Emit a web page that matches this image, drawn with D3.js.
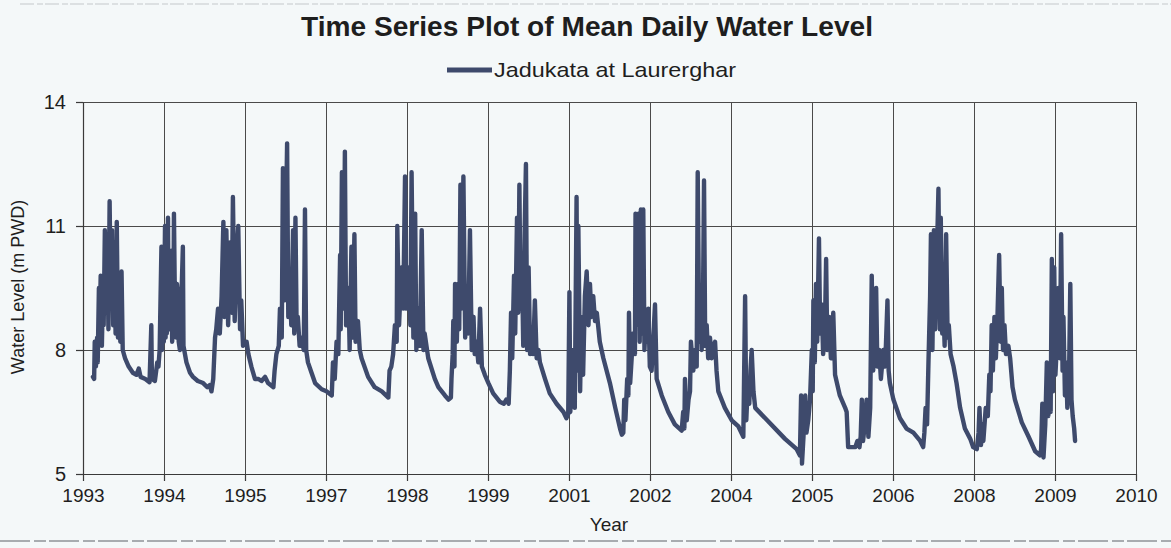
<!DOCTYPE html>
<html>
<head>
<meta charset="utf-8">
<script src="https://cdn.jsdelivr.net/npm/d3@7"></script>
<style>
  html, body { margin: 0; padding: 0; background: #f4f8f9; }
  svg { display: block; }
  text { font-family: "Liberation Sans", Arial, sans-serif; fill: #1e1e1e; }
</style>
</head>
<body>
<svg id="chart" width="1171" height="548"></svg>
<script>
// mean daily water level, Jadukata at Laurerghar
// [decimal year, level in m PWD]
var levels1993_1996 = [
  [1993.32,7.35],[1993.34,7.3],[1993.35,8.2],[1993.37,7.6],[1993.39,8.3],[1993.40,7.7],[1993.42,9.5],[1993.43,8.4],
  [1993.45,9.8],[1993.47,8.1],[1993.49,9.6],[1993.50,8.6],[1993.52,10.9],[1993.54,8.9],[1993.56,10.8],[1993.58,8.5],
  [1993.60,11.6],[1993.62,9.0],[1993.64,10.9],[1993.66,8.6],[1993.68,10.6],[1993.70,8.4],[1993.72,11.1],[1993.74,8.3],
  [1993.76,9.2],[1993.78,8.2],[1993.80,9.9],[1993.82,8.0],[1993.86,7.8],[1993.92,7.6],[1993.99,7.45],[1994.05,7.4],
  [1994.09,7.55],[1994.12,7.35],[1994.20,7.3],[1994.27,7.22],[1994.30,8.6],[1994.31,7.3],[1994.36,7.25],[1994.40,7.7],
  [1994.42,7.6],[1994.44,8.0],[1994.47,10.5],[1994.48,8.0],[1994.50,9.6],[1994.51,8.2],[1994.53,11.0],[1994.54,8.3],
  [1994.55,9.8],[1994.56,8.4],[1994.58,11.2],[1994.59,8.6],[1994.61,8.5],[1994.62,9.7],[1994.64,10.4],[1994.65,8.2],
  [1994.67,8.8],[1994.68,11.3],[1994.70,8.6],[1994.72,8.3],[1994.73,9.6],[1994.75,9.3],[1994.76,8.2],[1994.78,8.0],
  [1994.83,10.5],[1994.84,8.1],[1994.89,7.7],[1994.95,7.45],[1995.00,7.35],[1995.08,7.25],[1995.17,7.2],[1995.24,7.1],
  [1995.28,7.15],[1995.31,7.0],[1995.34,7.3],[1995.37,8.3],[1995.39,8.5],[1995.42,9.0],[1995.45,8.4],[1995.48,9.3],
  [1995.51,11.1],[1995.53,8.8],[1995.56,10.9],[1995.59,8.6],[1995.62,10.6],[1995.65,8.9],[1995.67,11.7],[1995.70,8.7],
  [1995.73,10.2],[1995.76,11.0],[1995.79,8.5],[1995.81,9.2],[1995.84,8.1],[1995.90,8.2],[1995.93,7.9],[1995.98,7.6],
  [1996.04,7.3],[1996.10,7.3],[1996.15,7.25],[1996.21,7.35],[1996.26,7.2],[1996.35,7.1],[1996.37,7.5],[1996.40,7.9],
  [1996.44,8.1],[1996.46,9.0],[1996.49,8.3],[1996.51,12.4],[1996.54,9.2],[1996.58,13.0],[1996.60,8.8],[1996.63,9.5],
  [1996.65,8.6],[1996.68,10.9],[1996.70,8.4],[1996.72,11.2],[1996.74,8.5],[1996.76,8.8],[1996.79,8.1],[1996.82,8.3],
  [1996.86,8.0],[1996.88,11.4],[1996.90,8.0],[1996.93,7.7],[1996.99,7.45]
];

var levels1997_2000 = [
  [1997.05,7.2],[1997.16,7.05],[1997.24,7.0],[1997.33,6.9],[1997.35,7.7],[1997.38,7.3],[1997.41,8.2],[1997.44,7.9],
  [1997.47,10.3],[1997.48,8.5],[1997.50,12.3],[1997.53,9.0],[1997.55,12.8],[1997.57,8.6],[1997.61,9.5],[1997.63,8.0],
  [1997.66,10.5],[1997.68,8.3],[1997.71,10.8],[1997.73,8.2],[1997.77,8.7],[1997.80,8.0],[1997.83,7.8],[1997.94,7.35],
  [1998.05,7.1],[1998.17,7.0],[1998.28,6.85],[1998.30,7.5],[1998.33,7.6],[1998.36,7.9],[1998.39,8.6],[1998.42,8.2],
  [1998.43,11.0],[1998.46,8.6],[1998.50,10.0],[1998.53,9.0],[1998.56,12.2],[1998.58,9.0],[1998.62,10.0],[1998.65,8.6],
  [1998.67,12.3],[1998.70,8.3],[1998.73,11.3],[1998.75,8.0],[1998.78,9.0],[1998.81,8.1],[1998.84,10.9],[1998.87,8.0],
  [1998.89,8.4],[1998.95,7.8],[1999.06,7.3],[1999.12,7.1],[1999.23,6.9],[1999.29,6.8],[1999.33,6.85],[1999.34,7.3],
  [1999.36,7.9],[1999.37,8.7],[1999.39,7.6],[1999.40,9.6],[1999.43,8.2],[1999.45,9.6],[1999.47,8.5],[1999.49,12.0],
  [1999.51,9.0],[1999.54,12.2],[1999.57,8.3],[1999.59,9.2],[1999.62,8.4],[1999.65,10.9],[1999.68,8.0],[1999.71,8.8],
  [1999.73,7.9],[1999.76,8.2],[1999.79,7.7],[1999.82,9.0],[1999.85,7.6],[1999.90,7.4],[1999.96,7.2],[2000.04,6.95],
  [2000.15,6.75],[2000.22,6.7],[2000.26,6.8],[2000.30,6.7],[2000.32,7.5],[2000.34,8.9],[2000.36,7.8],[2000.39,9.8],
  [2000.41,8.4],[2000.44,11.2],[2000.46,8.9],[2000.48,12.0],[2000.50,9.0],[2000.52,10.3],[2000.545,8.1],[2000.57,11.0],
  [2000.59,12.5],[2000.61,8.0],[2000.635,10.0],[2000.66,7.9],[2000.685,8.5],[2000.71,7.9],[2000.74,9.2],[2000.77,7.8],
  [2000.80,8.0],[2000.825,7.7],[2000.91,7.3],[2000.99,6.95]
];

var levels2001_2004 = [
  [2001.105,6.7],[2001.22,6.5],[2001.27,6.35],[2001.30,6.45],[2001.32,9.4],[2001.335,6.5],[2001.36,7.2],[2001.385,8.0],
  [2001.41,6.6],[2001.44,11.7],[2001.455,7.5],[2001.47,11.0],[2001.50,7.0],[2001.52,8.8],[2001.55,7.4],[2001.58,9.3],
  [2001.61,9.9],[2001.64,8.6],[2001.665,9.6],[2001.69,8.8],[2001.72,9.3],[2001.75,8.7],[2001.78,8.9],[2001.83,8.2],
  [2001.89,7.8],[2002.00,7.2],[2002.09,6.6],[2002.17,6.1],[2002.20,5.95],[2002.225,6.0],[2002.24,6.8],[2002.26,6.3],
  [2002.29,7.3],[2002.31,6.9],[2002.32,8.9],[2002.34,7.2],[2002.365,7.8],[2002.39,8.4],[2002.42,7.9],[2002.43,11.3],
  [2002.45,8.6],[2002.48,11.3],[2002.50,8.2],[2002.52,11.4],[2002.545,8.4],[2002.56,11.4],[2002.58,8.0],[2002.60,8.7],
  [2002.63,8.2],[2002.645,9.0],[2002.67,7.6],[2002.70,7.5],[2002.757,9.1],[2002.785,7.3],[2002.87,6.9],[2002.98,6.5],
  [2003.09,6.2],[2003.205,6.05],[2003.23,6.5],[2003.25,6.1],[2003.26,7.3],[2003.29,6.3],[2003.32,6.8],[2003.345,7.0],
  [2003.36,8.2],[2003.40,7.5],[2003.43,8.0],[2003.457,7.6],[2003.474,12.3],[2003.50,8.2],[2003.513,9.0],[2003.54,8.0],
  [2003.563,9.2],[2003.58,12.1],[2003.60,8.1],[2003.625,8.6],[2003.65,7.8],[2003.68,8.3],[2003.71,7.8],[2003.737,8.1],
  [2003.765,8.2],[2003.79,7.5],[2003.82,7.0],[2003.93,6.6],[2004.045,6.3],[2004.157,6.15],[2004.24,5.9],[2004.27,9.3],
  [2004.29,6.3],[2004.31,7.0],[2004.34,6.7],[2004.36,7.5],[2004.38,8.0],[2004.41,7.0],[2004.44,6.6],[2004.94,5.85]
];

var levels2005_2009 = [
  [2005.136,5.6],[2005.19,5.45],[2005.21,6.9],[2005.225,5.25],[2005.25,5.9],[2005.28,6.9],[2005.30,6.0],[2005.33,6.3],
  [2005.36,6.8],[2005.39,8.0],[2005.405,7.0],[2005.416,9.2],[2005.44,7.7],[2005.46,9.6],[2005.48,8.2],[2005.51,10.7],
  [2005.53,8.4],[2005.556,9.1],[2005.58,7.9],[2005.61,8.5],[2005.63,10.2],[2005.65,8.0],[2005.68,8.8],[2005.71,7.8],
  [2005.75,8.9],[2005.78,7.4],[2005.86,6.9],[2005.95,6.6],[2005.975,6.5],[2006.00,5.65],[2006.12,5.65],[2006.155,5.8],
  [2006.19,5.65],[2006.21,5.9],[2006.23,6.8],[2006.25,5.8],[2006.28,6.2],[2006.31,6.8],[2006.34,5.9],[2006.37,6.6],
  [2006.396,9.8],[2006.42,7.5],[2006.44,8.2],[2006.47,9.5],[2006.49,7.6],[2006.52,8.0],[2006.55,7.3],[2006.59,8.0],
  [2006.62,7.6],[2006.636,8.2],[2006.66,9.2],[2006.68,7.5],[2006.70,7.2],[2006.76,6.8],[2006.87,6.35],[2006.98,6.1],
  [2007.095,6.0],[2007.21,5.8],[2007.26,5.65],[2007.28,6.0],[2007.30,6.6],[2007.325,6.2],[2007.35,7.8],[2007.376,9.3],
  [2007.39,10.8],[2007.415,8.0],[2007.44,10.9],[2007.46,8.5],[2007.49,10.3],[2007.516,11.9],[2007.54,8.5],[2007.555,11.2],
  [2007.58,8.4],[2007.60,9.0],[2007.62,8.1],[2007.645,10.8],[2007.67,8.3],[2007.69,8.6],[2007.72,7.9],[2007.77,7.6],
  [2007.82,7.2],[2007.88,6.6],[2007.96,6.1],[2008.05,5.85],[2008.10,5.65],[2008.16,5.6],[2008.19,6.0],[2008.205,6.6],
  [2008.23,5.7],[2008.255,6.2],[2008.27,5.8],[2008.31,6.6],[2008.345,6.4],[2008.37,7.4],[2008.39,7.0],[2008.41,8.6],
  [2008.43,7.5],[2008.456,8.8],[2008.48,7.8],[2008.507,8.8],[2008.535,10.3],[2008.56,8.2],[2008.58,9.5],[2008.60,8.0],
  [2008.625,8.6],[2008.65,7.9],[2008.69,8.1],[2008.72,7.8],[2008.76,7.1],[2008.80,6.8],[2008.915,6.25],[2009.03,5.9],
  [2009.14,5.55],[2009.22,5.45],[2009.24,5.6],[2009.26,6.7],[2009.28,5.4],[2009.31,6.2],[2009.336,7.7],[2009.36,6.4],
  [2009.38,6.9],[2009.40,6.5],[2009.42,10.2],[2009.44,7.0],[2009.46,10.0],[2009.48,7.4],[2009.50,8.0],[2009.53,9.5],
  [2009.555,7.8],[2009.576,10.8],[2009.60,7.5],[2009.615,8.8],[2009.64,6.9],[2009.66,7.7],[2009.68,6.6],[2009.71,7.5],
  [2009.73,9.6],[2009.75,6.8],[2009.77,6.4],[2009.795,6.1],[2009.81,5.8]
];

// the excel date axis puts a label every ~1.36 years, hence the odd years
var xTickLabels = ["1993","1994","1995","1997","1998","1999","2001","2002","2004","2005","2006","2008","2009","2010"];
var xAxisStart = 1993.153, xAxisStep = 1.36;
var yTicks = [5, 8, 11, 14];

var levels = levels1993_1996.concat(levels1997_2000, levels2001_2004, levels2005_2009);

var svg = d3.select('#chart');
// careful: "top" is taken by window.top
var plotLeft = 83, plotRight = 1136, plotTop = 102, plotBottom = 474;

var xTickValues = xTickLabels.map(function(d, i) { return xAxisStart + i * xAxisStep; });

var x = d3.scaleLinear()
  .domain([xTickValues[0], xTickValues[xTickValues.length - 1]])
  .range([plotLeft, plotRight]);
var y = d3.scaleLinear().domain([5, 14]).range([plotBottom, plotTop]);

// scan artefacts along top and bottom edge
svg.append('line').attr('x1', 20).attr('x2', 1171).attr('y1', 4).attr('y2', 4)
  .attr('stroke', '#d3d7da').attr('stroke-width', 1.5).attr('stroke-dasharray', '14 3 6 2');
svg.append('line').attr('x1', 0).attr('x2', 1171).attr('y1', 541).attr('y2', 541)
  .attr('stroke', '#a8acb0').attr('stroke-width', 2).attr('stroke-dasharray', '30 4 12 3');

// gridlines
svg.append('g')
  .attr('transform', 'translate(0,' + plotBottom + ')')
  .call(d3.axisBottom(x).tickValues(xTickValues).tickSize(-(plotBottom - plotTop)).tickFormat(''))
  .call(function(g) {
    g.select('.domain').remove();
    g.selectAll('line').attr('stroke', '#4a4a4a').attr('stroke-width', 1);
  });
svg.append('g')
  .attr('transform', 'translate(' + plotLeft + ',0)')
  .call(d3.axisLeft(y).tickValues(yTicks).tickSize(-(plotRight - plotLeft)).tickFormat(''))
  .call(function(g) {
    g.select('.domain').remove();
    g.selectAll('line').attr('stroke', '#4a4a4a').attr('stroke-width', 1);
  });

// axes
var xAxis = svg.append('g')
  .attr('transform', 'translate(0,' + plotBottom + ')')
  .call(d3.axisBottom(x).tickValues(xTickValues).tickSize(7).tickSizeOuter(0).tickPadding(8)
    .tickFormat(function(d, i) { return xTickLabels[i]; }));
var yAxis = svg.append('g')
  .attr('transform', 'translate(' + plotLeft + ',0)')
  .call(d3.axisLeft(y).tickValues(yTicks).tickSize(7).tickSizeOuter(0).tickPadding(10));

[xAxis, yAxis].forEach(function(g) {
  g.selectAll('path, line').attr('stroke', '#3a3a3a').attr('stroke-width', 1.2);
  g.selectAll('text').style('font-size', '19px').style('font-family', '"Liberation Sans", Arial, sans-serif').attr('fill', '#1e1e1e');
});
yAxis.selectAll('text').style('font-size', '20px');

// series
var line = d3.line()
  .x(function(d) { return x(d[0]); })
  .y(function(d) { return y(d[1]); });

svg.append('path')
  .datum(levels)
  .attr('d', line)
  .attr('fill', 'none')
  .attr('stroke', '#3e4a6c')
  .attr('stroke-width', 4.4)
  .attr('stroke-linejoin', 'round')
  .attr('stroke-linecap', 'round');

// titles
svg.append('text')
  .attr('x', 587).attr('y', 36)
  .attr('text-anchor', 'middle')
  .attr('textLength', 572).attr('lengthAdjust', 'spacingAndGlyphs')
  .style('font-size', '28px').style('font-weight', 'bold')
  .attr('fill', '#2b2b2b')
  .text('Time Series Plot of Mean Daily Water Level');

svg.append('line')
  .attr('x1', 447).attr('x2', 492).attr('y1', 70).attr('y2', 70)
  .attr('stroke', '#3e4a6c').attr('stroke-width', 5);
svg.append('text')
  .attr('x', 494).attr('y', 77)
  .attr('textLength', 242).attr('lengthAdjust', 'spacingAndGlyphs')
  .style('font-size', '21px')
  .text('Jadukata at Laurerghar');

svg.append('text')
  .attr('transform', 'translate(24,287) rotate(-90)')
  .attr('text-anchor', 'middle')
  .style('font-size', '18px')
  .text('Water Level (m PWD)');

svg.append('text')
  .attr('x', 609).attr('y', 531)
  .attr('text-anchor', 'middle')
  .style('font-size', '19px')
  .text('Year');
</script>
</body>
</html>
